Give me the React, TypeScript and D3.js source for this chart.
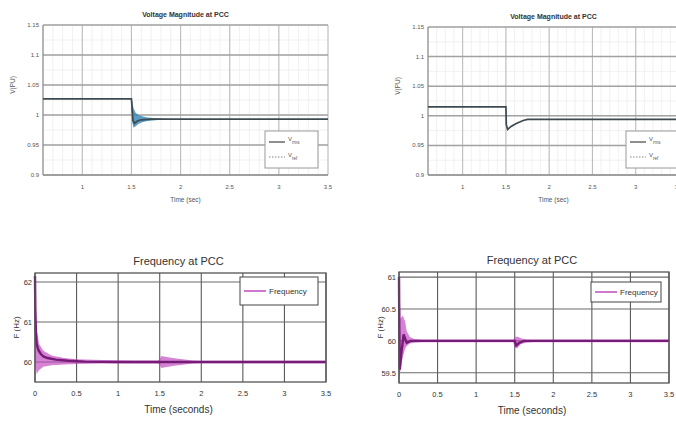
import React from "react";
import * as d3 from "d3";

// ---------- data ----------
const voltXTicks = [1, 1.5, 2, 2.5, 3, 3.5];
const voltYTicks = [0.9, 0.95, 1, 1.05, 1.1, 1.15];
const freqXTicks = [0, 0.5, 1, 1.5, 2, 2.5, 3, 3.5];
const freqLeftYTicks = [60, 61, 62];
const freqRightYTicks = [59.5, 60, 60.5, 61];

// top-left voltage (V_rms)
const tlTime = [0.6, 1.5, 1.505, 1.515, 1.53, 1.56, 1.6, 1.7, 1.8, 2.0, 3.5];
const tlVolt = [1.027, 1.027, 1.015, 0.992, 0.986, 0.99, 0.992, 0.993, 0.993, 0.993, 0.993];
const tlBandTime = [1.5, 1.505, 1.52, 1.54, 1.57, 1.61, 1.66, 1.72, 1.8, 1.9];
const tlBandHigh = [1.027, 1.026, 1.012, 1.004, 1.0, 0.998, 0.996, 0.995, 0.994, 0.993];
const tlBandLow = [1.02, 0.99, 0.979, 0.981, 0.985, 0.988, 0.99, 0.991, 0.992, 0.993];

// top-right voltage
const trTime = [0.6, 1.5, 1.505, 1.52, 1.56, 1.62, 1.7, 1.75, 3.5];
const trVolt = [1.015, 1.015, 0.985, 0.977, 0.982, 0.987, 0.992, 0.994, 0.994];

// bottom-left frequency
const blTime = [0, 0.004, 0.01, 0.02, 0.04, 0.07, 0.1, 0.15, 0.25, 0.4, 0.6, 1.0, 1.5, 3.5];
const blFreq = [62.15, 61.3, 60.8, 60.45, 60.3, 60.2, 60.14, 60.1, 60.06, 60.03, 60.01, 60.0, 60.0, 60.0];
const blBandTime = [0, 0.02, 0.05, 0.1, 0.2, 0.35, 0.5, 0.8, 1.2, 1.48, 1.5, 1.52, 1.6, 1.7, 1.8, 1.9, 2.0, 2.2, 3.5];
const blBandHigh = [62.2, 60.8, 60.45, 60.28, 60.16, 60.1, 60.07, 60.05, 60.04, 60.04, 60.08, 60.15, 60.12, 60.09, 60.06, 60.04, 60.03, 60.03, 60.03];
const blBandLow = [60.0, 59.7, 59.8, 59.88, 59.92, 59.94, 59.95, 59.96, 59.96, 59.96, 59.92, 59.85, 59.88, 59.91, 59.94, 59.96, 59.97, 59.97, 59.97];

// bottom-right frequency
const brTime = [0, 0.004, 0.01, 0.03, 0.06, 0.1, 0.15, 1.5, 1.52, 1.56, 1.62, 3.5];
const brFreq = [61.0, 60.2, 59.55, 59.8, 60.1, 59.97, 60.0, 60.0, 59.93, 59.97, 60.0, 60.0];
const brBandTime = [0, 0.02, 0.05, 0.08, 0.1, 0.14, 0.2, 0.3, 1.48, 1.5, 1.53, 1.58, 1.65, 1.75, 3.5];
const brBandHigh = [61.05, 60.35, 60.4, 60.3, 60.15, 60.06, 60.03, 60.02, 60.02, 60.05, 60.07, 60.04, 60.02, 60.02, 60.02];
const brBandLow = [59.4, 59.55, 59.75, 59.88, 59.92, 59.96, 59.97, 59.98, 59.98, 59.9, 59.88, 59.95, 59.97, 59.98, 59.98];

const voltTitle = "Voltage Magnitude at PCC";
const freqTitle = "Frequency at PCC";

const fmt = (v: number) => String(+v.toFixed(3));

function range(a: number, b: number, s: number) {
  const out: number[] = [];
  for (let i = 0; a + i * s <= b + 1e-9; i++) out.push(+(a + i * s).toFixed(4));
  return out;
}

function VoltPanel({ box, time, volt, bandT, bandH, bandL, legendX }: any) {
  const x = d3.scaleLinear().domain([0.6, 3.5]).range([box.l, box.r]);
  const y = d3.scaleLinear().domain([0.9, 1.15]).range([box.b, box.t]);
  const line = d3.line<number>().x((_, i) => x(time[i])).y((d) => y(d));
  const minorX = range(0.6, 3.5, 0.1);
  const minorY = range(0.9, 1.15, 0.025);
  const mid = (box.l + box.r) / 2;
  let band = null;
  if (bandT) {
    const area = d3
      .area<number>()
      .x((_, i) => x(bandT[i]))
      .y0((_, i) => y(bandL[i]))
      .y1((d) => y(d));
    band = <path d={area(bandH) || ""} fill="#2f86b3" opacity={0.8} />;
  }
  const lx = legendX;
  return (
    <g fontFamily="Liberation Sans, Arial, sans-serif" fill="#555">
      {minorX.map((v) => (
        <line key={"mx" + v} x1={x(v)} x2={x(v)} y1={box.t} y2={box.b} stroke="#ededed" strokeWidth={0.8} />
      ))}
      {minorY.map((v) => (
        <line key={"my" + v} x1={box.l} x2={box.r} y1={y(v)} y2={y(v)} stroke="#ededed" strokeWidth={0.8} />
      ))}
      {voltXTicks.map((v) => (
        <line key={"gx" + v} x1={x(v)} x2={x(v)} y1={box.t} y2={box.b} stroke="#bdbdbd" strokeWidth={1.1} />
      ))}
      {voltYTicks.map((v) => (
        <line key={"gy" + v} x1={box.l} x2={box.r} y1={y(v)} y2={y(v)} stroke="#a2a2a2" strokeWidth={1.5} />
      ))}
      <line x1={box.l} x2={box.l} y1={box.t} y2={box.b} stroke="#888" strokeWidth={1.2} />
      <line x1={box.l} x2={box.r} y1={box.b} y2={box.b} stroke="#888" strokeWidth={1.2} />
      {band}
      <path d={line(volt) || ""} fill="none" stroke="#3d4a50" strokeWidth={1.7} />
      {voltYTicks.map((v) => (
        <text key={"ty" + v} x={box.l - 4} y={y(v) + 2} fontSize={6} textAnchor="end">
          {fmt(v)}
        </text>
      ))}
      {voltXTicks.map((v) => (
        <text key={"tx" + v} x={x(v)} y={box.b + 14} fontSize={6} textAnchor="middle">
          {fmt(v)}
        </text>
      ))}
      <text x={mid} y={box.t - 8} fontSize={7} fontWeight="bold" fill="#333" textAnchor="middle">
        {voltTitle}
      </text>
      <text x={mid} y={box.b + 27} fontSize={6.5} textAnchor="middle">
        Time (sec)
      </text>
      <text
        transform={`translate(${box.l - 28},${(box.t + box.b) / 2 - 15}) rotate(-90)`}
        fontSize={6.5}
        textAnchor="middle"
      >
        V(PU)
      </text>
      <rect x={lx} y={131} width={53} height={37} fill="#fff" stroke="#999" strokeWidth={1} />
      <line x1={lx + 4} x2={lx + 20} y1={142} y2={142} stroke="#444" strokeWidth={1.2} />
      <text x={lx + 23} y={141} fontSize={6}>
        V<tspan dy={3} fontSize={4.5}>rms</tspan>
      </text>
      <line x1={lx + 4} x2={lx + 20} y1={157} y2={157} stroke="#666" strokeWidth={0.8} strokeDasharray="1.5,1.5" />
      <text x={lx + 23} y={157} fontSize={6}>
        V<tspan dy={3} fontSize={4.5}>ref</tspan>
      </text>
    </g>
  );
}

function FreqPanel({ box, yDomain, yTicks, time, freq, bandT, bandH, bandL, legend }: any) {
  const x = d3.scaleLinear().domain([0, 3.5]).range([box.l, box.r]);
  const y = d3.scaleLinear().domain(yDomain).range([box.b, box.t]);
  const line = d3.line<number>().x((_, i) => x(time[i])).y((d) => y(d));
  const area = d3
    .area<number>()
    .x((_, i) => x(bandT[i]))
    .y0((_, i) => y(bandL[i]))
    .y1((d) => y(d));
  const mid = (box.l + box.r) / 2;
  return (
    <g fontFamily="Liberation Sans, Arial, sans-serif" fill="#333">
      {freqXTicks.map((v) => (
        <line key={"gx" + v} x1={x(v)} x2={x(v)} y1={box.t} y2={box.b} stroke="#5a5a5a" strokeWidth={1.1} />
      ))}
      {yTicks.map((v: number) => (
        <line key={"gy" + v} x1={box.l} x2={box.r} y1={y(v)} y2={y(v)} stroke="#6a6a6a" strokeWidth={1.1} />
      ))}
      <path d={area(bandH) || ""} fill="#c040c0" opacity={0.65} />
      <path d={line(freq) || ""} fill="none" stroke="#761c76" strokeWidth={2.4} />
      <rect x={box.l} y={box.t} width={box.r - box.l} height={box.b - box.t} fill="none" stroke="#555" strokeWidth={1.3} />
      {yTicks.map((v: number) => (
        <text key={"ty" + v} x={box.l - 3} y={y(v) + 3} fontSize={7.5} textAnchor="end">
          {fmt(v)}
        </text>
      ))}
      {freqXTicks.map((v) => (
        <text key={"tx" + v} x={x(v)} y={box.b + 14} fontSize={7.5} textAnchor="middle">
          {fmt(v)}
        </text>
      ))}
      <text x={mid - 2} y={box.t - 8} fontSize={11} textAnchor="middle">
        {freqTitle}
      </text>
      <text x={mid - 2} y={box.b + 31} fontSize={10} textAnchor="middle">
        Time (seconds)
      </text>
      <text
        transform={`translate(${box.l - 16},${(box.t + box.b) / 2}) rotate(-90)`}
        fontSize={8}
        textAnchor="middle"
      >
        F (Hz)
      </text>
      <rect x={legend.x} y={legend.y} width={legend.w} height={legend.h} fill="#fff" stroke="#444" strokeWidth={1} />
      <line
        x1={legend.x + 4}
        x2={legend.x + 26}
        y1={legend.y + legend.h / 2}
        y2={legend.y + legend.h / 2}
        stroke="#c04ac0"
        strokeWidth={1.5}
      />
      <text x={legend.x + 29} y={legend.y + legend.h / 2 + 3} fontSize={8}>
        Frequency
      </text>
    </g>
  );
}

export default function App() {
  return (
    <svg width={676} height={423} style={{ position: "absolute", left: 0, top: 0, background: "#fff" }}>
      <rect x={0} y={0} width={676} height={423} fill="#fff" />
      <VoltPanel
        box={{ l: 43, r: 328, t: 25, b: 175 }}
        time={tlTime}
        volt={tlVolt}
        bandT={tlBandTime}
        bandH={tlBandHigh}
        bandL={tlBandLow}
        legendX={265}
      />
      <VoltPanel box={{ l: 428, r: 679, t: 27, b: 175 }} time={trTime} volt={trVolt} legendX={626} />
      <FreqPanel
        box={{ l: 35, r: 326, t: 273, b: 382 }}
        yDomain={[59.5, 62.225]}
        yTicks={freqLeftYTicks}
        time={blTime}
        freq={blFreq}
        bandT={blBandTime}
        bandH={blBandHigh}
        bandL={blBandLow}
        legend={{ x: 240, y: 277, w: 78, h: 28 }}
      />
      <FreqPanel
        box={{ l: 399, r: 669, t: 272, b: 383 }}
        yDomain={[59.34, 61.08]}
        yTicks={freqRightYTicks}
        time={brTime}
        freq={brFreq}
        bandT={brBandTime}
        bandH={brBandHigh}
        bandL={brBandLow}
        legend={{ x: 591, y: 282, w: 70, h: 20 }}
      />
    </svg>
  );
}
